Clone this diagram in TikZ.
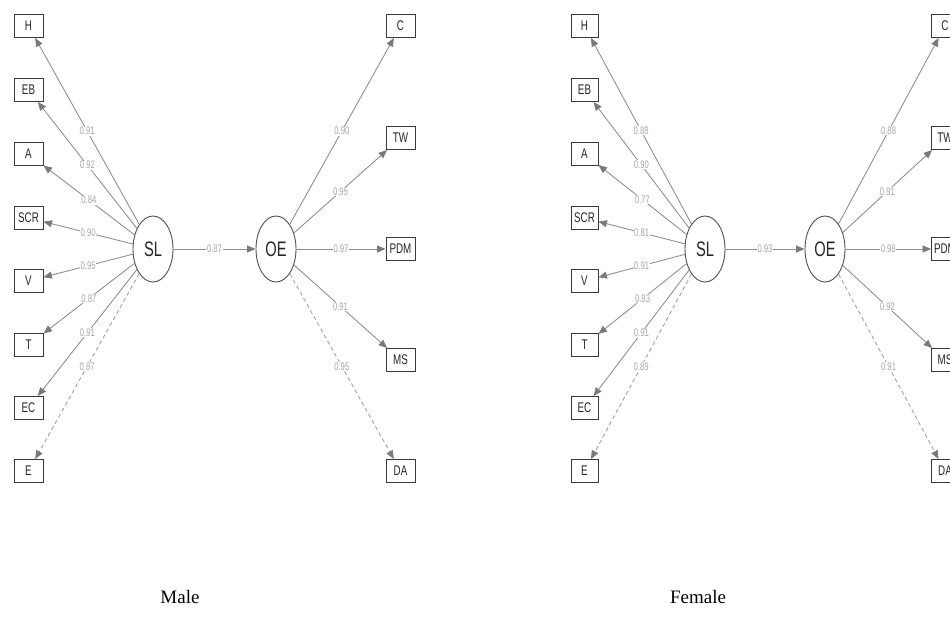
\documentclass[tikz,border=0pt]{standalone}
\usepackage{fontspec}
\setmainfont{Liberation Serif}
\newfontfamily\narrowsf[FakeStretch=0.7]{Liberation Sans}
\usetikzlibrary{arrows.meta,shapes.geometric}
\definecolor{boxc}{HTML}{3A3A3A}
\definecolor{latc}{HTML}{505050}
\definecolor{linec}{HTML}{8C8C8C}
\definecolor{dashc}{HTML}{9E9E9E}
\definecolor{headc}{HTML}{7A7A7A}
\definecolor{labc}{HTML}{A6A6A6}
\newcommand\semPanel[9]{%
  \node[lat] (#1SL) at (#3,249) {SL};
  \node[lat] (#1OE) at (#4,249) {OE};
  \foreach \n/\y/\v/\s in {#7}{
    \node[obs, minimum width=#6] (#1\n) at (#2,\y) {\n};
    \draw[\s] (#1SL) -- node[lab]{\v} (#1\n);
  }
  \foreach \n/\y/\v/\s in {#8}{
    \node[obs, minimum width=#6] (#1\n) at (#5,\y) {\n};
    \draw[\s] (#1OE) -- node[lab]{\v} (#1\n);
  }
  \draw[ld] (#1SL) -- node[lab]{#9} (#1OE);
}
\begin{document}
\begin{tikzpicture}[x=1pt,y=-1pt,
  obs/.style={rectangle, draw=boxc, line width=0.9pt, minimum height=23pt, inner sep=0pt,
    font=\narrowsf\fontsize{14}{14}\selectfont, text=black!85},
  lat/.style={ellipse, draw=latc, line width=0.9pt, minimum width=40pt, minimum height=66pt,
    inner sep=0pt, font=\narrowsf\fontsize{21}{21}\selectfont, text=black!85},
  ld/.style={draw=linec, line width=0.85pt, -{Triangle[length=8.5pt,width=7pt,color=headc]}},
  ldd/.style={draw=dashc, line width=0.85pt, dash pattern=on 4pt off 3pt,
    -{Triangle[length=8.5pt,width=7pt,color=headc]}},
  lab/.style={fill=white, inner sep=0.6pt, text=labc, font=\narrowsf\fontsize{11}{11}\selectfont},
  captext/.style={font=\fontsize{19}{19}\selectfont, text=black}
]
\clip (0,0) rectangle (950,627);
\fill[white] (0,0) rectangle (950,627);
\semPanel{m}{28.5}{153}{276}{400.5}{29pt}%
  {H/26/0.91/ld, EB/90/0.92/ld, A/154/0.84/ld, SCR/218/0.90/ld, V/281/0.95/ld, T/345/0.87/ld, EC/408/0.91/ld, E/471/0.87/ldd}%
  {C/26/0.90/ld, TW/138/0.95/ld, PDM/249/0.97/ld, MS/360/0.91/ld, DA/471/0.95/ldd}%
  {0.87}
\semPanel{f}{584.5}{705}{825}{945}{27pt}%
  {H/26/0.88/ld, EB/90/0.90/ld, A/154/0.77/ld, SCR/218/0.81/ld, V/281/0.91/ld, T/345/0.83/ld, EC/408/0.91/ld, E/471/0.89/ldd}%
  {C/26/0.88/ld, TW/138/0.91/ld, PDM/249/0.98/ld, MS/360/0.92/ld, DA/471/0.91/ldd}%
  {0.93}
\node[captext] (male) at (180,597) {Male};
\node[captext] (female) at (698,597) {Female};
\end{tikzpicture}
\end{document}
